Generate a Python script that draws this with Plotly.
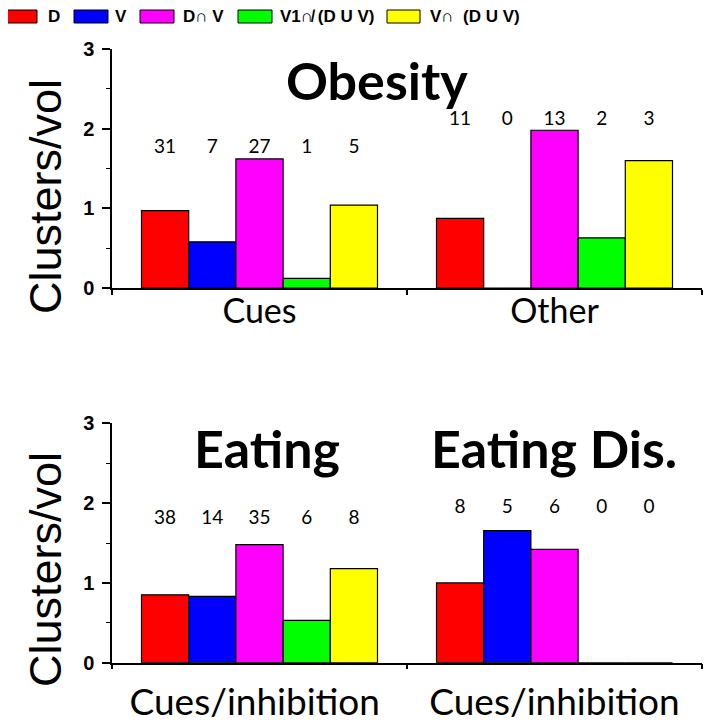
import plotly.graph_objects as go

# ---------------- data ----------------
series_names = ["D", "V", "D∩ V", "V1∩̸ (D U V)", "V∩  (D U V)"]
series_colors = ["#FF0000", "#0000FF", "#FF00FF", "#00FF00", "#FFFF00"]

top_categories = ["Cues", "Other"]
top_values = {
    "D": [0.97, 0.875],
    "V": [0.58, 0.0],
    "D∩ V": [1.62, 1.98],
    "V1∩̸ (D U V)": [0.12, 0.63],
    "V∩  (D U V)": [1.04, 1.60],
}
top_counts = {
    "D": [31, 11],
    "V": [7, 0],
    "D∩ V": [27, 13],
    "V1∩̸ (D U V)": [1, 2],
    "V∩  (D U V)": [5, 3],
}

bot_categories = ["Cues/inhibition ", "Cues/inhibition"]
bot_values = {
    "D": [0.85, 1.00],
    "V": [0.83, 1.655],
    "D∩ V": [1.48, 1.42],
    "V1∩̸ (D U V)": [0.53, 0.0],
    "V∩  (D U V)": [1.18, 0.0],
}
bot_counts = {
    "D": [38, 8],
    "V": [14, 5],
    "D∩ V": [35, 6],
    "V1∩̸ (D U V)": [6, 0],
    "V∩  (D U V)": [8, 0],
}

y_ticks = [0, 1, 2, 3]
y_title = "Clusters/vol"
panel_titles = ["Obesity", "Eating", "Eating Dis."]

# ---------------- styling / layout constants ----------------
W, H = 712, 725
OFF = 8  # page body margin
top_label_y = [1.76, 2.11]
bot_label_y = [1.80, 1.93]

def px_x(p):
    return (p - OFF) / W

def px_y(p):
    return 1 - (p - OFF) / H

fig = go.Figure()

def add_panel(cats, values, counts, label_y, xa, ya):
    for i, name in enumerate(series_names):
        fig.add_trace(go.Bar(
            x=cats, y=values[name], name=name,
            marker=dict(color=series_colors[i], line=dict(color="black", width=1.2)),
            offsetgroup=str(i), xaxis=xa, yaxis=ya, showlegend=False,
            hoverinfo="skip",
        ))
    for i, name in enumerate(series_names):
        fig.add_trace(go.Scatter(
            x=cats, y=label_y, mode="text",
            text=[str(c) for c in counts[name]],
            textfont=dict(family="Lato", size=19, color="black"),
            offsetgroup=str(i), xaxis=xa, yaxis=ya, showlegend=False,
            hoverinfo="skip",
        ))

add_panel(top_categories, top_values, top_counts, top_label_y, "x", "y")
add_panel(bot_categories, bot_values, bot_counts, bot_label_y, "x2", "y2")

xdom = [px_x(112), px_x(702)]
ydom_top = [px_y(288), px_y(49)]
ydom_bot = [px_y(662.7), px_y(423.3)]

yaxis_common = dict(
    range=[0, 3], tickvals=y_ticks, ticks="outside", ticklen=8, tickwidth=1.5,
    tickcolor="black", showline=True, linecolor="black", linewidth=1.5,
    showgrid=False, zeroline=False, automargin=False,
    tickfont=dict(family="Liberation Sans", size=20, color="black", weight="bold"),
    minor=dict(dtick=0.5, ticks="outside", ticklen=4, tickwidth=1.2, tickcolor="black", showgrid=False),
    ticklabelstandoff=4, fixedrange=True,
)
xaxis_common = dict(
    showline=True, linecolor="black", linewidth=1.5, ticks="outside", ticklen=5,
    tickwidth=1.5, tickcolor="black", tickson="boundaries", showgrid=False,
    zeroline=False, fixedrange=True, automargin=False,
)

fig.update_layout(
    template="none",
    width=W, height=H,
    margin=dict(l=0, r=0, t=0, b=0, autoexpand=False),
    paper_bgcolor="white", plot_bgcolor="white",
    barmode="group", bargap=0.2, bargroupgap=0,
    scattermode="group", scattergap=0.2,
    showlegend=False,
    xaxis=dict(domain=xdom, anchor="y", **xaxis_common,
               tickfont=dict(family="Lato", size=34, color="black"), ticklabelstandoff=-8),
    yaxis=dict(domain=ydom_top, anchor="x", **yaxis_common),
    xaxis2=dict(domain=xdom, anchor="y2", **xaxis_common,
                tickfont=dict(family="Lato", size=37, color="black"), ticklabelstandoff=6),
    yaxis2=dict(domain=ydom_bot, anchor="x2", **yaxis_common),
)

annotations = []
# y-axis titles
for cy in [197, 570]:
    annotations.append(dict(
        text=y_title, x=px_x(45), y=px_y(cy), xref="paper", yref="paper",
        textangle=-90, showarrow=False, xanchor="center", yanchor="middle",
        font=dict(family="Liberation Sans", size=45, color="black"),
    ))
# panel titles
for title, cx, cy in [(panel_titles[0], 377, 80), (panel_titles[1], 267, 448), (panel_titles[2], 554, 448)]:
    annotations.append(dict(
        text=title, x=px_x(cx), y=px_y(cy), xref="paper", yref="paper",
        showarrow=False, xanchor="center", yanchor="middle",
        font=dict(family="Lato", size=52, color="black", weight="bold"),
    ))

# manual legend (wide swatches)
shapes = []
box_x = [(2, 37), (74, 108), (140, 174), (238, 272), (387, 420)]
text_x = [46, 113, 181, 278, 428]
for i, name in enumerate(series_names):
    x0, x1 = box_x[i]
    shapes.append(dict(type="rect", xref="paper", yref="paper",
                       x0=px_x(x0), x1=px_x(x1), y0=px_y(23), y1=px_y(10),
                       fillcolor=series_colors[i], line=dict(color="black", width=1)))
    annotations.append(dict(
        text=name, x=px_x(text_x[i]), y=px_y(16.5), xref="paper", yref="paper",
        showarrow=False, xanchor="left", yanchor="middle",
        font=dict(family="Liberation Sans", size=17, color="black", weight="bold"),
    ))

fig.update_layout(annotations=annotations, shapes=shapes)
fig.write_html("out.html")
